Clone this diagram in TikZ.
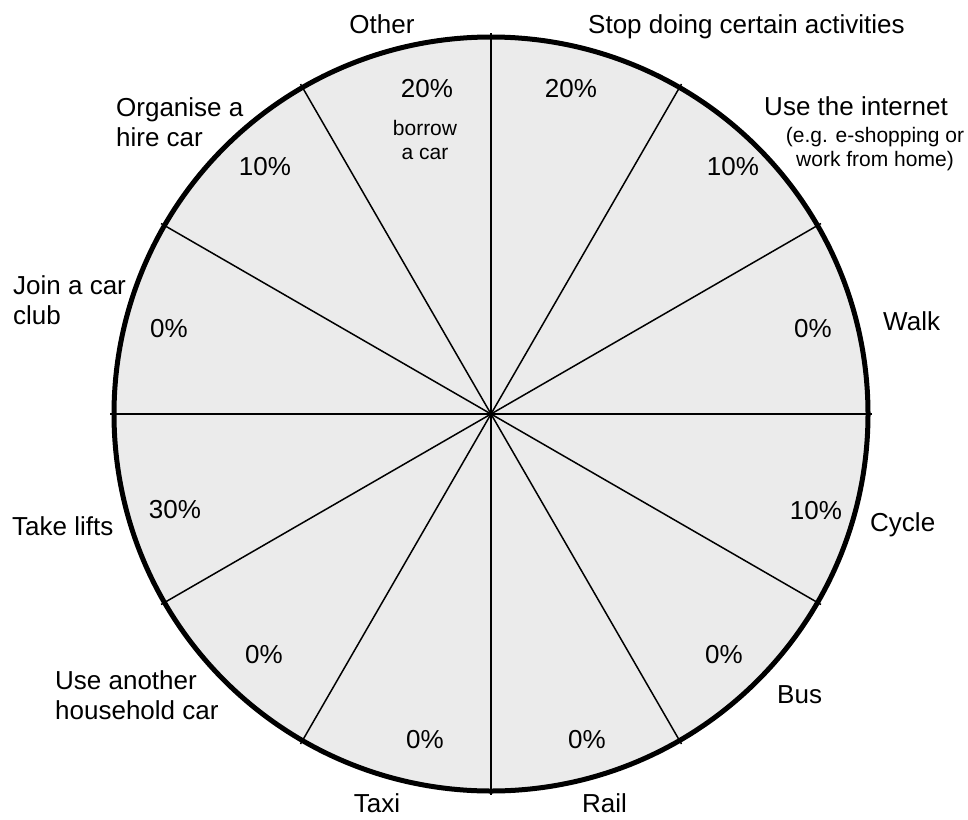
\documentclass[tikz,border=0pt]{standalone}
\usepackage{fontspec}
\setmainfont{Liberation Sans}
\begin{document}
\begin{tikzpicture}[x=1pt,y=-1pt,
  sectorfill/.style={fill=black!8},
  spoke/.style={line width=1.5pt,black},
  rim/.style={line width=5pt,black},
  lbl/.style={inner sep=0pt,font=\fontsize{26pt}{30pt}\selectfont},
  pct/.style={inner sep=0pt,anchor=base,font=\fontsize{26pt}{30pt}\selectfont},
  note/.style={inner sep=0pt,align=center,font=\fontsize{21pt}{24pt}\selectfont}]
  \useasboundingbox (0,0) rectangle (968,819);
  % wheel
  \coordinate (c) at (491,414);
  \fill[sectorfill] (c) circle[radius=377];
  \foreach \a in {0,30,...,330}
    \draw[spoke] (c) -- ++(\a:381);
  \draw[rim] (c) circle[radius=377];

  % option names round the wheel (multi-line nodes sit on their last baseline)
  \node[lbl,anchor=base] (other) at (382,33) {Other};
  \node[lbl,anchor=base west] (stop) at (588,33) {Stop doing certain activities};
  \node[lbl,anchor=base] (internet) at (856,115) {Use the internet};
  \node[note,anchor=base] (eg) at (875,166) {(e.g. e-shopping or\\work from home)};
  \node[lbl,anchor=base west] (walk) at (883,330) {Walk};
  \node[lbl,anchor=base west] (cycle) at (870,531) {Cycle};
  \node[lbl,anchor=base west] (bus) at (777,703) {Bus};
  \node[lbl,anchor=base west] (rail) at (582,812) {Rail};
  \node[lbl,anchor=base] (taxi) at (377,812) {Taxi};
  \node[lbl,anchor=base west,align=left] (household) at (55,719) {Use another\\household car};
  \node[lbl,anchor=base west] (lifts) at (12,535) {Take lifts};
  \node[lbl,anchor=base west,align=left] (club) at (13,324) {Join a car\\club};
  \node[lbl,anchor=base west,align=left] (hire) at (116,146) {Organise a\\hire car};

  % shares inside the sectors
  \node[pct] (pOther) at (427,97) {20\%};
  \node[note,anchor=base] (borrow) at (425,159) {borrow\\a car};
  \node[pct] (pStop) at (571,97) {20\%};
  \node[pct] (pInternet) at (733,175) {10\%};
  \node[pct] (pWalk) at (813,337) {0\%};
  \node[pct] (pCycle) at (816,519) {10\%};
  \node[pct] (pBus) at (724,663) {0\%};
  \node[pct] (pRail) at (587,748) {0\%};
  \node[pct] (pTaxi) at (425,748) {0\%};
  \node[pct] (pHousehold) at (264,663) {0\%};
  \node[pct] (pLifts) at (175,518) {30\%};
  \node[pct] (pClub) at (169,337) {0\%};
  \node[pct] (pHire) at (265,175) {10\%};
\end{tikzpicture}
\end{document}
